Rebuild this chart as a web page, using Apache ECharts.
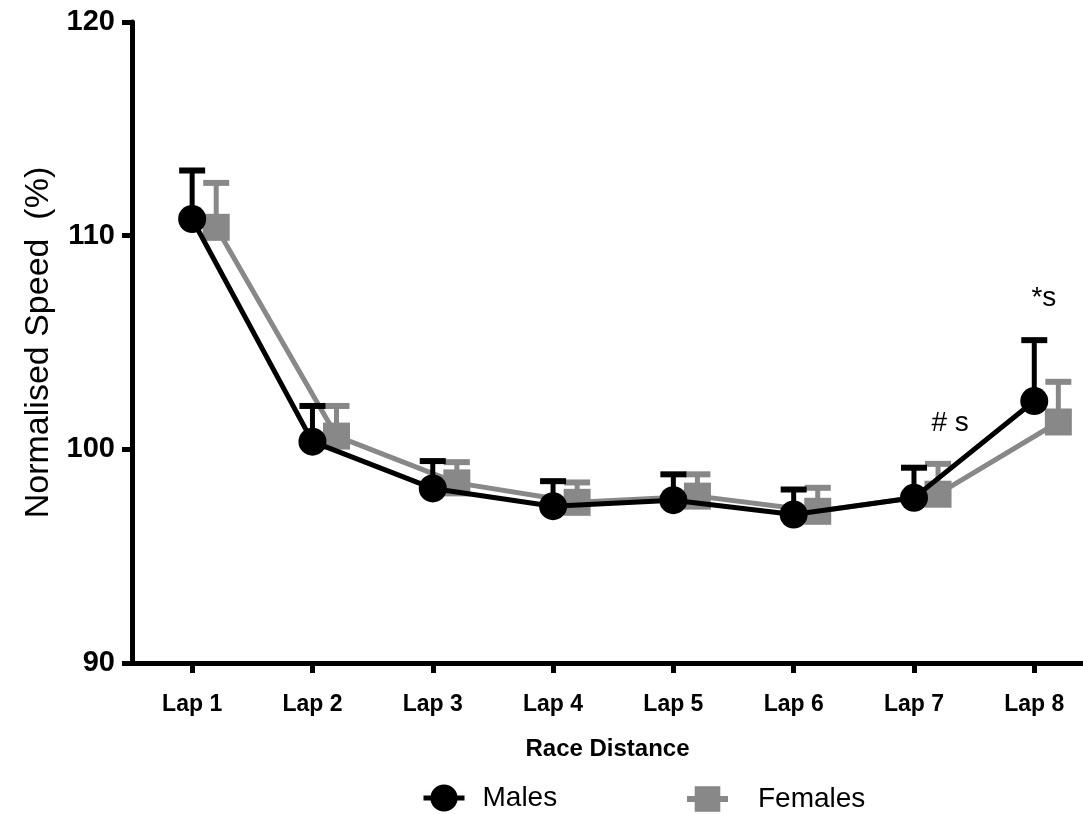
<!DOCTYPE html>
<html>
<head>
<meta charset="utf-8">
<script src="https://cdn.jsdelivr.net/npm/echarts@6/dist/echarts.min.js"></script>
<style>
html,body{margin:0;padding:0;background:#fff;}
#chart{width:1083px;height:814px;}
</style>
</head>
<body>
<div id="chart"></div>
<script>
// ---- data ----
const laps = ['Lap 1', 'Lap 2', 'Lap 3', 'Lap 4', 'Lap 5', 'Lap 6', 'Lap 7', 'Lap 8'];
const yTicks = [90, 100, 110, 120];
const malesMean = [110.78, 100.36, 98.17, 97.34, 97.62, 96.95, 97.73, 102.26];
const malesSD = [2.27, 1.67, 1.28, 1.17, 1.21, 1.17, 1.41, 2.85];
const femalesMean = [110.39, 100.62, 98.43, 97.52, 97.81, 97.10, 97.90, 101.28];
const femalesSD = [2.08, 1.41, 0.97, 0.93, 1.02, 1.10, 1.42, 1.88];
const annoText = ['# s', '*s'];
const annoLap = [7.30, 8.08];
const annoValue = [101.2, 107.05];

// ---- styling ----
const FONT = 'Liberation Sans, Arial, Helvetica, sans-serif';
const MALE_COLOR = '#000000';
const FEMALE_COLOR = '#888888';
const FEMALE_SHIFT = 0.2;

const lapPos = laps.map((_, i) => i + 1);

function errorBarRender(color) {
  return function (params, api) {
    const x = api.value(0), m = api.value(1), t = api.value(2);
    const p0 = api.coord([x, m]);
    const p1 = api.coord([x, t]);
    return {
      type: 'group',
      children: [
        { type: 'line', shape: { x1: p0[0], y1: p0[1], x2: p1[0], y2: p1[1] }, style: { stroke: color, lineWidth: 5 } },
        { type: 'line', shape: { x1: p1[0] - 13, y1: p1[1], x2: p1[0] + 13, y2: p1[1] }, style: { stroke: color, lineWidth: 6 } }
      ]
    };
  };
}

const chart = echarts.init(document.getElementById('chart'), null, { renderer: 'canvas' });
const option = {
  animation: false,
  backgroundColor: '#ffffff',
  textStyle: { fontFamily: FONT, color: '#000' },
  grid: { left: 132, top: 22, right: 0, height: 641, containLabel: false },
  xAxis: {
    type: 'value',
    min: 0.5,
    max: 8.405,
    name: 'Race Distance',
    nameLocation: 'middle',
    nameGap: 74,
    nameTextStyle: { fontFamily: FONT, fontWeight: 'bold', fontSize: 24, color: '#000' },
    axisLine: { show: true, onZero: false, lineStyle: { color: '#000', width: 5 } },
    axisTick: { show: true, length: 10, lineStyle: { color: '#000', width: 5 }, customValues: lapPos },
    axisLabel: {
      show: true, margin: 30, fontFamily: FONT, fontWeight: 'bold', fontSize: 23, color: '#000',
      customValues: lapPos,
      formatter: v => laps[Math.round(v) - 1] || ''
    },
    splitLine: { show: false }
  },
  yAxis: {
    type: 'value',
    min: yTicks[0],
    max: yTicks[yTicks.length - 1],
    interval: 10,
    name: 'Normalised Speed  (%)',
    nameLocation: 'middle',
    nameRotate: 90,
    nameGap: 68,
    nameTextStyle: { fontFamily: FONT, fontSize: 34, color: '#000' },
    axisLine: { show: true, onZero: false, lineStyle: { color: '#000', width: 5 } },
    axisTick: { show: true, length: 10, lineStyle: { color: '#000', width: 5 } },
    axisLabel: { margin: 17, fontFamily: FONT, fontWeight: 'bold', fontSize: 29, color: '#000' },
    splitLine: { show: false }
  },
  legend: [
    {
      data: ['Males'], left: 416, top: 779, itemWidth: 41, itemHeight: 34,
      lineStyle: { width: 5 },
      textStyle: { fontFamily: FONT, fontSize: 28, color: '#000', padding: [0, 0, 0, 13] }
    },
    {
      data: ['Females'], left: 679, top: 780, itemWidth: 41, itemHeight: 32,
      lineStyle: { width: 6 },
      textStyle: { fontFamily: FONT, fontSize: 28, color: '#000', padding: [0, 0, 0, 25] }
    }
  ],
  series: [
    {
      name: 'FemalesErr', type: 'custom', z: 1,
      renderItem: errorBarRender(FEMALE_COLOR),
      encode: { x: 0, y: [1, 2] },
      data: femalesMean.map((m, i) => [i + 1 + FEMALE_SHIFT, m, m + femalesSD[i]])
    },
    {
      name: 'Females', type: 'line', z: 2,
      symbol: 'rect', symbolSize: 27,
      itemStyle: { color: FEMALE_COLOR },
      lineStyle: { color: FEMALE_COLOR, width: 5 },
      data: femalesMean.map((m, i) => [i + 1 + FEMALE_SHIFT, m])
    },
    {
      name: 'MalesErr', type: 'custom', z: 3,
      renderItem: errorBarRender(MALE_COLOR),
      encode: { x: 0, y: [1, 2] },
      data: malesMean.map((m, i) => [i + 1, m, m + malesSD[i]])
    },
    {
      name: 'Males', type: 'line', z: 4,
      symbol: 'circle', symbolSize: 28,
      itemStyle: { color: MALE_COLOR },
      lineStyle: { color: MALE_COLOR, width: 5 },
      data: malesMean.map((m, i) => [i + 1, m])
    },
    {
      name: 'Annotations', type: 'scatter', z: 5, symbolSize: 1,
      itemStyle: { opacity: 0 },
      label: {
        show: true, position: 'inside', fontFamily: FONT, fontSize: 28, color: '#000', opacity: 1,
        formatter: p => annoText[p.dataIndex]
      },
      data: annoLap.map((x, i) => [x, annoValue[i]])
    }
  ]
};
chart.setOption(option);
</script>
</body>
</html>
